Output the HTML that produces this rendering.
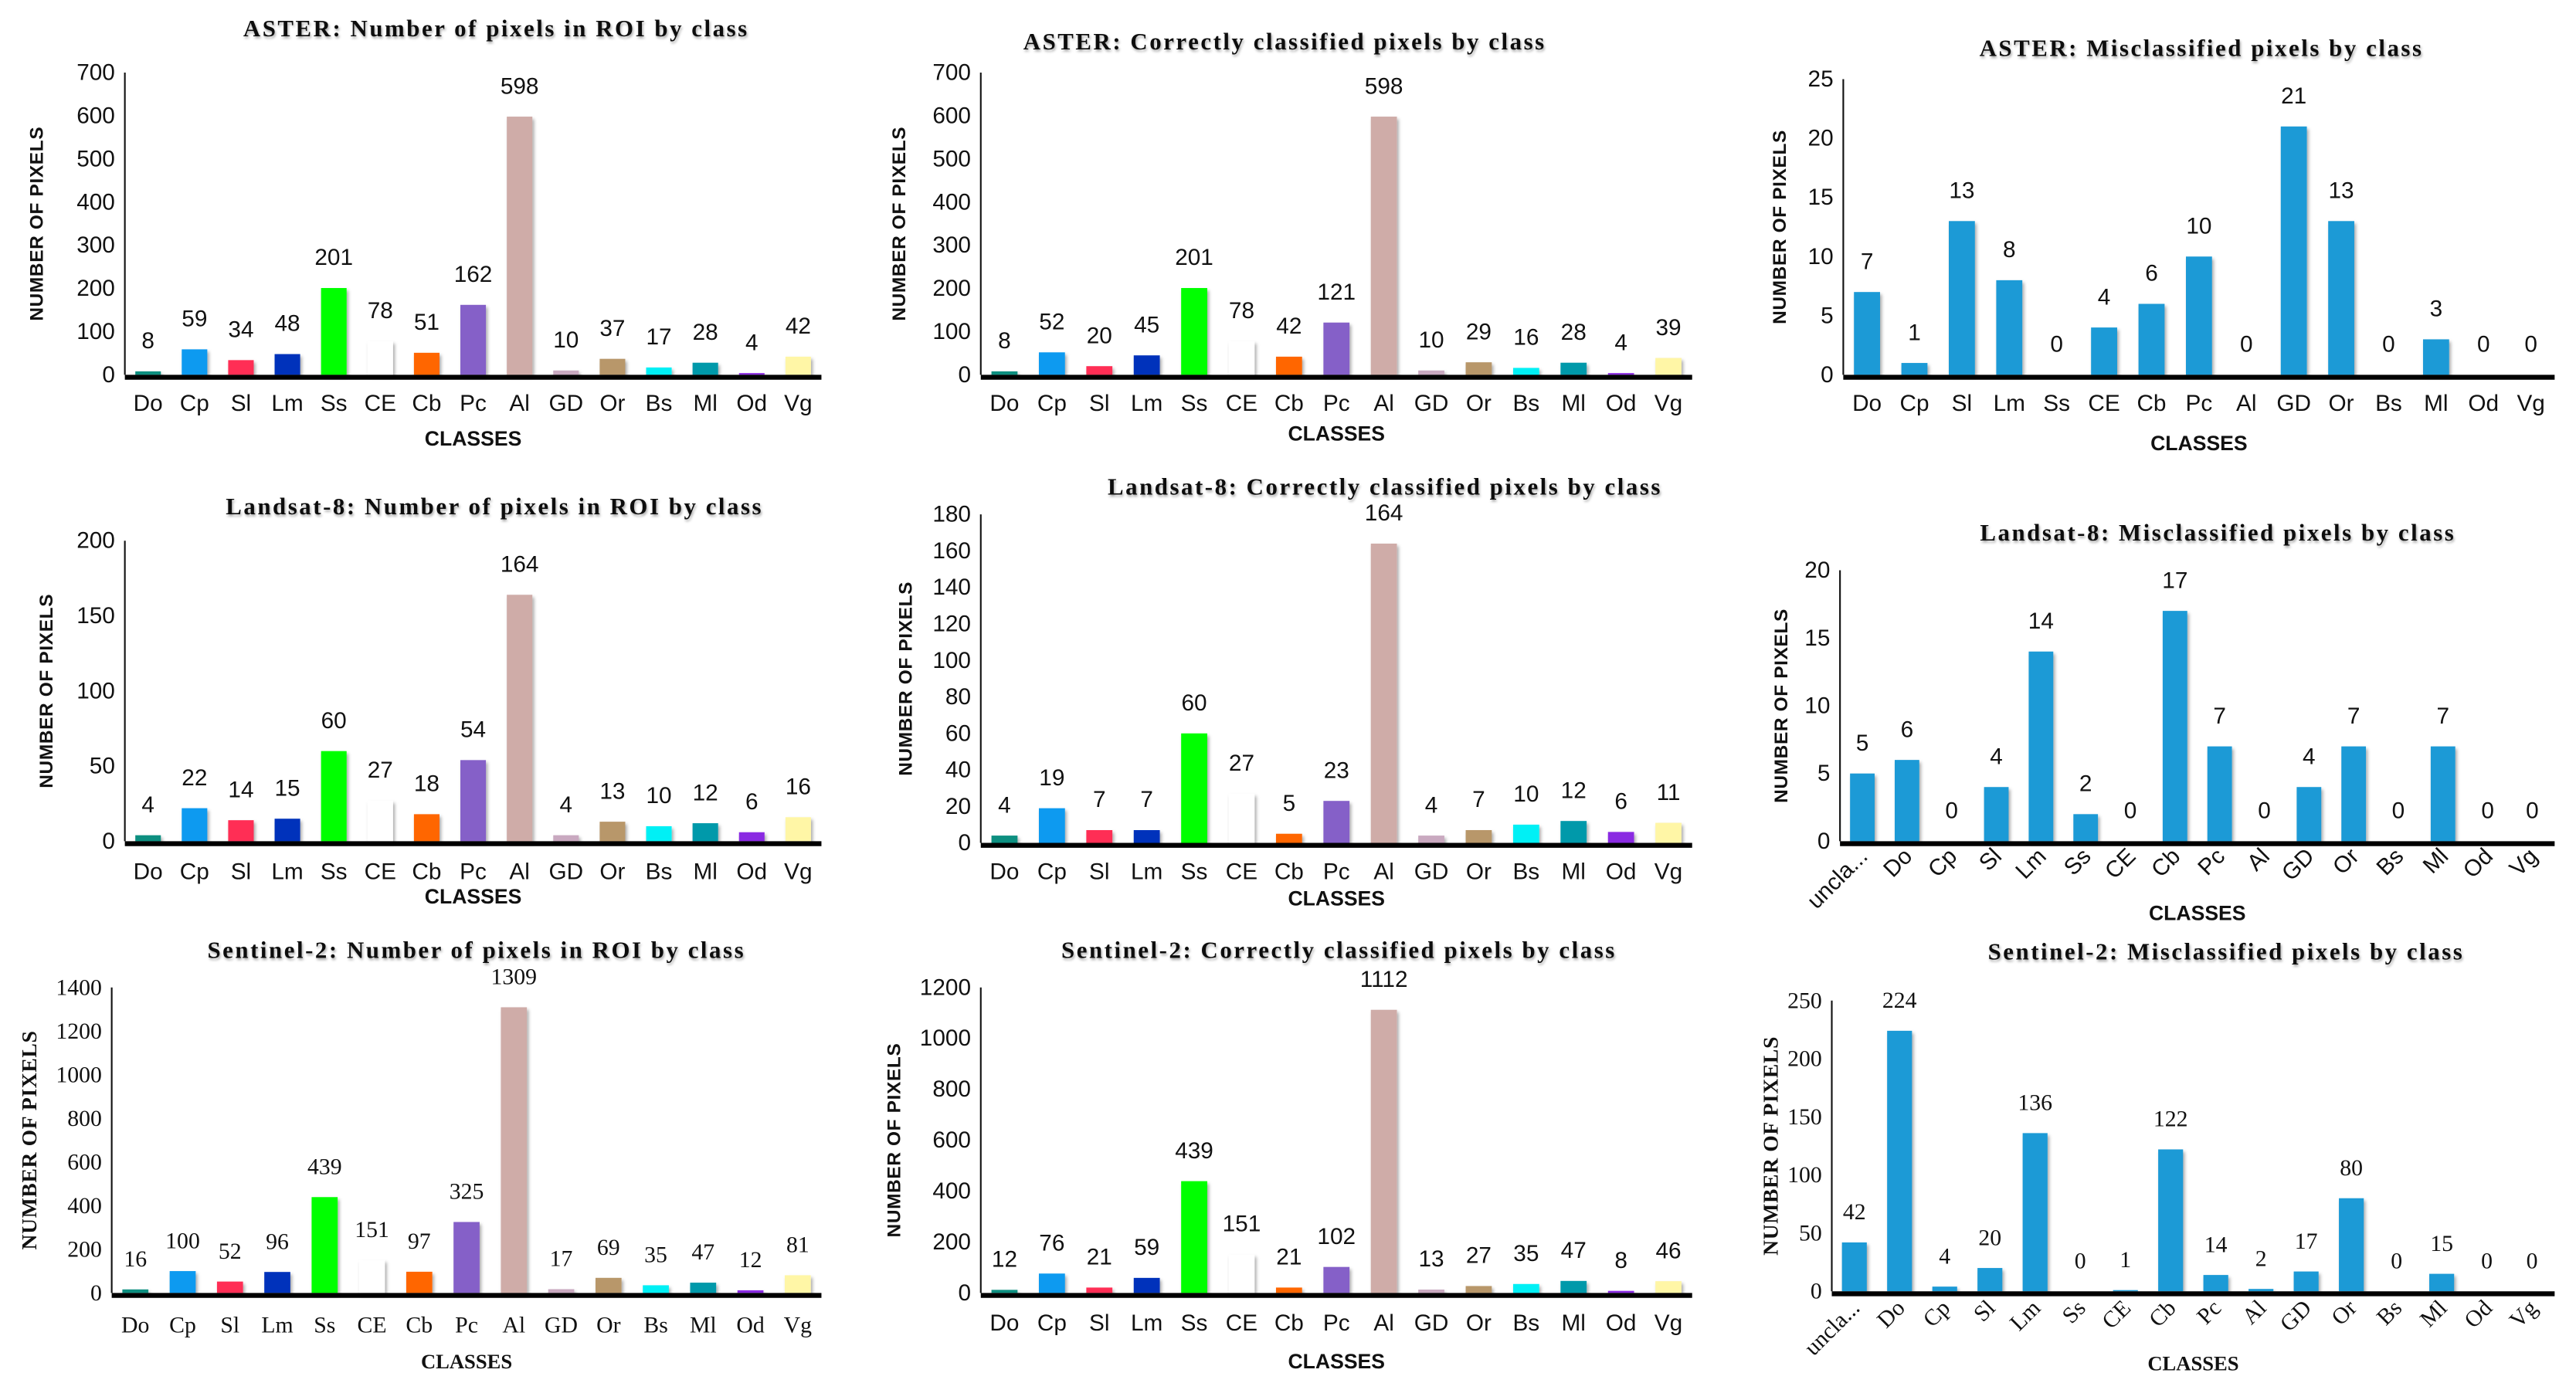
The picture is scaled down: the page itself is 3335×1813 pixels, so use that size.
<!DOCTYPE html>
<html><head><meta charset="utf-8">
<style>
html,body{margin:0;padding:0;background:#fff;}
svg{display:block;}
.tk{font-family:"Liberation Sans Narrow","Liberation Sans",sans-serif;font-size:14px;fill:#111;}
.ttl{font-family:"Liberation Serif",serif;font-weight:bold;font-size:14.5px;letter-spacing:1.2px;fill:#111;}
.yt{font-family:"Liberation Sans",sans-serif;font-weight:900;font-size:11.5px;fill:#111;letter-spacing:0.3px;}
.xt{font-family:"Liberation Sans Narrow","Liberation Sans",sans-serif;font-weight:bold;font-size:12.5px;fill:#111;}
.serif{font-family:"Liberation Serif",serif;}
</style></head>
<body>
<svg id="fig" width="3335" height="1813" viewBox="0 0 1568 852" xmlns="http://www.w3.org/2000/svg">
<defs>
<filter id="sh" x="-20%" y="-20%" width="140%" height="140%"><feDropShadow dx="1" dy="1.5" stdDeviation="1" flood-color="#000" flood-opacity="0.35"/></filter>
<filter id="tsh" x="-5%" y="-30%" width="110%" height="160%"><feDropShadow dx="0.6" dy="1.2" stdDeviation="0.7" flood-color="#000" flood-opacity="0.35"/></filter>
</defs>
</svg>
<script>
// ---- data ----
const classes15 = ["Do","Cp","Sl","Lm","Ss","CE","Cb","Pc","Al","GD","Or","Bs","Ml","Od","Vg"];
const classes16 = ["uncla...","Do","Cp","Sl","Lm","Ss","CE","Cb","Pc","Al","GD","Or","Bs","Ml","Od","Vg"];
const classColors = ["#0e8f80","#0a9af0","#ff2d55","#0033bb","#00ff00","#ffffff","#ff6600","#8560c8","#cfaca8","#c9a9c0","#b8976a","#00f0f5","#0099aa","#8a2be2","#fff6a6"];
const asterRoi = [8,59,34,48,201,78,51,162,598,10,37,17,28,4,42];
const asterCorrect = [8,52,20,45,201,78,42,121,598,10,29,16,28,4,39];
const asterMis = [7,1,13,8,0,4,6,10,0,21,13,0,3,0,0];
const landRoi = [4,22,14,15,60,27,18,54,164,4,13,10,12,6,16];
const landCorrect = [4,19,7,7,60,27,5,23,164,4,7,10,12,6,11];
const landMis = [5,6,0,4,14,2,0,17,7,0,4,7,0,7,0,0];
const sentRoi = [16,100,52,96,439,151,97,325,1309,17,69,35,47,12,81];
const sentCorrect = [12,76,21,59,439,151,21,102,1112,13,27,35,47,8,46];
const sentMis = [42,224,4,20,136,0,1,122,14,2,17,80,0,15,0,0];
const ticksAster = [0,100,200,300,400,500,600,700];
const ticksAsterMis = [0,5,10,15,20,25];
const ticksLandRoi = [0,50,100,150,200];
const ticksLandCorrect = [0,20,40,60,80,100,120,140,160,180];
const ticksLandMis = [0,5,10,15,20];
const ticksSentRoi = [0,200,400,600,800,1000,1200,1400];
const ticksSentCorrect = [0,200,400,600,800,1000,1200];
const ticksSentMis = [0,50,100,150,200,250];

const charts = [
 {name:"aster-roi",title:"ASTER: Number of pixels in ROI by class",cats:classes15,vals:asterRoi,ticks:ticksAster,color:null,x0:76,x1:500,yTop:44,y0:228,tx:302,ty:22,ytx:26,xl:250,xt:271,rot:false,serif:false},
 {name:"aster-correct",title:"ASTER: Correctly classified pixels by class",cats:classes15,vals:asterCorrect,ticks:ticksAster,color:null,x0:597,x1:1030,yTop:44,y0:228,tx:782,ty:30,ytx:551,xl:250,xt:268,rot:false,serif:false},
 {name:"aster-mis",title:"ASTER: Misclassified pixels by class",cats:classes15,vals:asterMis,ticks:ticksAsterMis,color:"#1a9ad6",x0:1122,x1:1555,yTop:48,y0:228,tx:1340,ty:34,ytx:1087,xl:250,xt:274,rot:false,serif:false},
 {name:"landsat-roi",title:"Landsat-8: Number of pixels in ROI by class",cats:classes15,vals:landRoi,ticks:ticksLandRoi,color:null,x0:76,x1:500,yTop:329,y0:512,tx:301,ty:313,ytx:32,xl:535,xt:550,rot:false,serif:false},
 {name:"landsat-correct",title:"Landsat-8: Correctly classified pixels by class",cats:classes15,vals:landCorrect,ticks:ticksLandCorrect,color:null,x0:597,x1:1030,yTop:313,y0:513,tx:843,ty:301,ytx:555,xl:535,xt:551,rot:false,serif:false},
 {name:"landsat-mis",title:"Landsat-8: Misclassified pixels by class",cats:classes16,vals:landMis,ticks:ticksLandMis,color:"#1a9ad6",x0:1120,x1:1555,yTop:347,y0:512,tx:1350,ty:329,ytx:1088,xl:522,xt:560,rot:true,serif:false},
 {name:"sentinel-roi",title:"Sentinel-2: Number of pixels in ROI by class",cats:classes15,vals:sentRoi,ticks:ticksSentRoi,color:null,x0:68,x1:500,yTop:601,y0:787,tx:290,ty:583,ytx:22,xl:811,xt:833,rot:false,serif:true},
 {name:"sentinel-correct",title:"Sentinel-2: Correctly classified pixels by class",cats:classes15,vals:sentCorrect,ticks:ticksSentCorrect,color:null,x0:597,x1:1030,yTop:601,y0:787,tx:815,ty:583,ytx:548,xl:810,xt:833,rot:false,serif:false},
 {name:"sentinel-mis",title:"Sentinel-2: Misclassified pixels by class",cats:classes16,vals:sentMis,ticks:ticksSentMis,color:"#1a9ad6",x0:1115,x1:1555,yTop:609,y0:786,tx:1355,ty:584,ytx:1082,xl:797,xt:834,rot:true,serif:true}
];

const NS="http://www.w3.org/2000/svg";
const svg=document.getElementById("fig");
function mk(tag,attrs,parent){const e=document.createElementNS(NS,tag);for(const k in attrs)e.setAttribute(k,attrs[k]);(parent||svg).appendChild(e);return e;}

charts.forEach(c=>{
  const g=mk("g",{});
  
  
  const max=c.ticks[c.ticks.length-1];
  const yS=v=>c.y0-(v/max)*(c.y0-c.yTop);
  const band=(c.x1-c.x0)/c.cats.length;
  const xS=i=>c.x0+band*(i+0.5);
  const bw=band*0.55;
  const ff=c.serif?"serif":"";
  const t=mk("text",{x:c.tx,y:c.ty,"text-anchor":"middle",class:"ttl",filter:"url(#tsh)"},g);
  t.textContent=c.title;
  
  
  c.ticks.forEach(v=>{
    const tl=mk("text",{x:c.x0-6,y:yS(v)+4.5,"text-anchor":"end",class:"tk "+ff},g);
    tl.textContent=v;
    
    
  });
  const ya=mk("line",{x1:c.x0,y1:c.yTop,x2:c.x0,y2:c.y0,stroke:"#111","stroke-width":1},g);
  
  
  c.vals.forEach((v,i)=>{
    const col=c.color||classColors[i];
    const b=mk("rect",{x:xS(i)-bw/2,y:yS(v),width:bw,height:Math.max(0,c.y0-yS(v)),fill:col,filter:"url(#sh)"},g);
    
    
    const vl=mk("text",{x:xS(i),y:yS(v)-14,"text-anchor":"middle",class:"tk "+ff},g);
    vl.textContent=v;
    
    
    let cl;
    if(c.rot){
      cl=mk("text",{x:xS(i)+4,y:c.xl,"text-anchor":"end",class:"tk "+ff,transform:`rotate(-45 ${xS(i)+4} ${c.xl})`},g);
    }else{
      cl=mk("text",{x:xS(i),y:c.xl,"text-anchor":"middle",class:"tk "+ff},g);
    }
    cl.textContent=c.cats[i];
    
    
  });
  const xa=mk("line",{x1:c.x0,y1:c.y0+1.5,x2:c.x1,y2:c.y0+1.5,stroke:"#000","stroke-width":3},g);
  
  
  const xtl=mk("text",{x:(c.x0+c.x1)/2,y:c.xt,"text-anchor":"middle",class:"xt "+ff},g);
  xtl.textContent="CLASSES";
  
  
  const cy=(c.yTop+c.y0)/2;
  const ytl=mk("text",{x:c.ytx,y:cy,"text-anchor":"middle",class:"yt "+ff,transform:`rotate(-90 ${c.ytx} ${cy})`},g);
  if(c.serif){ytl.setAttribute("style","font-family:'Liberation Serif',serif;font-size:13px;");}
  ytl.textContent="NUMBER OF PIXELS";
  
  
});
</script>
</body></html>
